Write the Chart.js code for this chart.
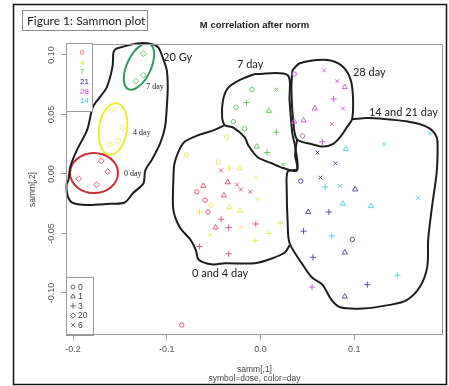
<!DOCTYPE html>
<html>
<head>
<meta charset="utf-8">
<script src="https://cdn.jsdelivr.net/npm/chart.js@4.4.1/dist/chart.umd.min.js"></script>
<style>
  html, body { margin: 0; padding: 0; background: #fff; }
</style>
</head>
<body>
<canvas id="sammonChart" width="449" height="386"></canvas>
<script>
// samm[,1] / samm[,2] per sample, grouped by day; dose decides the symbol
const day0X = [-0.170, -0.163, -0.194, -0.175, -0.084, -0.068, -0.059, -0.056, -0.035, -0.061, -0.039, -0.048, -0.042, -0.034, -0.005, -0.065, -0.034, -0.042, -0.025, -0.021, -0.011];
const day0Y = [0.011, 0.002, -0.004, -0.009, -0.127, -0.015, -0.022, -0.032, -0.007, -0.010, -0.018, -0.045, -0.038, -0.045, -0.042, -0.061, -0.067, 0.003, -0.009, -0.013, -0.015];
const day0Dose = [20, 20, 20, 20, 0, 0, 0, 0, 1, 1, 1, 1, 3, 3, 3, 3, 3, 6, 6, 6, 6];

const day4X = [-0.159, -0.147, -0.152, -0.161, -0.036, -0.079, -0.045, -0.053, -0.022, -0.033, -0.022, -0.033, -0.065, 0.021, 0.009, -0.006, -0.005, -0.003, -0.021, -0.054];
const day4Y = [0.054, 0.039, 0.028, 0.025, 0.031, 0.016, 0.010, -0.026, 0.005, -0.028, -0.031, 0.005, -0.032, -0.041, -0.050, -0.056, -0.003, -0.021, -0.045, -0.051];
const day4Dose = [20, 20, 20, 20, 0, 0, 0, 0, 1, 1, 1, 3, 3, 3, 3, 3, 6, 6, 6, 6];

const day7X = [-0.125, -0.125, -0.133, -0.009, -0.026, -0.029, -0.017, 0.009, -0.004, -0.015, 0.017, 0.007, 0.017, 0.024];
const day7Y = [0.101, 0.083, 0.078, 0.071, 0.056, 0.044, 0.038, 0.053, 0.023, 0.060, 0.035, 0.018, 0.071, 0.008];
const day7Dose = [20, 20, 20, 0, 0, 0, 0, 1, 1, 3, 3, 3, 6, 6];

const day21X = [0.043, 0.098, 0.101, 0.051, 0.090, 0.090, 0.073, 0.046, 0.056, 0.114, 0.061, 0.080, 0.064];
const day21Y = [-0.006, -0.055, -0.013, -0.032, -0.066, -0.103, -0.032, -0.048, -0.070, -0.093, 0.018, 0.009, -0.003];
const day21Dose = [0, 0, 1, 1, 1, 1, 3, 3, 3, 3, 6, 6, 6];

const day28X = [0.036, 0.045, 0.090, 0.058, 0.036, 0.046, 0.078, 0.066, 0.055, 0.068, 0.082, 0.088, 0.076];
const day28Y = [0.084, 0.032, 0.073, 0.055, 0.044, 0.045, 0.063, 0.027, -0.095, 0.087, 0.078, 0.055, 0.042];
const day28Dose = [0, 0, 1, 1, 1, 1, 3, 3, 3, 6, 6, 6, 6];

const day14X = [0.091, 0.088, 0.118, 0.069, 0.076, 0.146, 0.132, 0.181, 0.085, 0.168];
const day14Y = [0.021, -0.025, -0.027, -0.011, -0.052, -0.085, 0.025, 0.034, -0.010, -0.020];
const day14Dose = [1, 1, 1, 3, 3, 3, 6, 6, 6, 6];

const dayLevels = [0, 4, 7, 21, 28, 14];
const doseLevels = [0, 1, 3, 20, 6];
const xTicks = [-0.2, -0.1, 0.0, 0.1];
const yTicks = [-0.10, -0.05, 0.00, 0.05, 0.10];

// hand drawn group outlines, in samm units
const outline20Gy = [[-0.155, 0.105], [-0.142, 0.108], [-0.125, 0.110], [-0.110, 0.107], [-0.104, 0.097], [-0.100, 0.087], [-0.099, 0.073], [-0.100, 0.056], [-0.102, 0.039], [-0.107, 0.026], [-0.116, 0.012], [-0.123, 0.003], [-0.125, -0.008], [-0.136, -0.016], [-0.145, -0.024], [-0.161, -0.025], [-0.185, -0.026], [-0.201, -0.024], [-0.206, -0.018], [-0.207, -0.009], [-0.205, -0.005], [-0.203, 0.006], [-0.196, 0.020], [-0.185, 0.037], [-0.179, 0.056], [-0.171, 0.065], [-0.164, 0.073], [-0.158, 0.090], [-0.157, 0.102], [-0.155, 0.105]];
const outlineDay0And4 = [[-0.038, 0.041], [-0.049, 0.037], [-0.065, 0.033], [-0.081, 0.027], [-0.088, 0.018], [-0.092, 0.008], [-0.093, -0.005], [-0.093, -0.030], [-0.086, -0.045], [-0.075, -0.055], [-0.069, -0.064], [-0.066, -0.072], [-0.051, -0.076], [-0.038, -0.075], [-0.006, -0.075], [0.012, -0.071], [0.026, -0.066], [0.031, -0.060]];
const outlineDay7 = [[-0.006, 0.084], [0.029, 0.083], [0.031, 0.062], [0.034, 0.034], [0.037, 0.023], [0.039, 0.003], [0.024, 0.005], [0.012, 0.009], [-0.003, 0.014], [-0.013, 0.024], [-0.017, 0.031], [-0.029, 0.039], [-0.038, 0.041], [-0.041, 0.048], [-0.040, 0.062], [-0.035, 0.072], [-0.022, 0.079], [-0.006, 0.084]];
const outlineDay28 = [[0.034, 0.087], [0.042, 0.093], [0.067, 0.096], [0.083, 0.093], [0.093, 0.085], [0.098, 0.072], [0.098, 0.047], [0.092, 0.039], [0.085, 0.031], [0.077, 0.025], [0.067, 0.023], [0.055, 0.025], [0.039, 0.029], [0.035, 0.044], [0.033, 0.072], [0.034, 0.087]];
const outlineDay14And21 = [[0.098, 0.046], [0.115, 0.047], [0.157, 0.044], [0.179, 0.039], [0.188, 0.031], [0.189, 0.020], [0.188, 0.001], [0.183, -0.028], [0.179, -0.055], [0.178, -0.078], [0.170, -0.095], [0.156, -0.106], [0.138, -0.110], [0.109, -0.113], [0.085, -0.112], [0.076, -0.106], [0.066, -0.093], [0.055, -0.087], [0.044, -0.075], [0.031, -0.058], [0.029, -0.041], [0.028, -0.013], [0.029, 0.002], [0.039, 0.004], [0.037, 0.016], [0.039, 0.029]];

const dayGroups = [
  { day: 0, x: day0X, y: day0Y, dose: day0Dose },
  { day: 4, x: day4X, y: day4Y, dose: day4Dose },
  { day: 7, x: day7X, y: day7Y, dose: day7Dose },
  { day: 21, x: day21X, y: day21Y, dose: day21Dose },
  { day: 28, x: day28X, y: day28Y, dose: day28Dose },
  { day: 14, x: day14X, y: day14Y, dose: day14Dose },
];
const outlines = [outline20Gy, outlineDay0And4, outlineDay7, outlineDay28, outlineDay14And21];

const styleByDose = { 0: "circle", 1: "triangle", 3: "cross", 20: "rectRot", 6: "crossRot" };
const sizeByDose = { 0: 2.2, 1: 3.0, 3: 3.1, 20: 2.9, 6: 2.7 };
const dayColors = { 0: "#d6607a", 4: "#e8e866", 7: "#6cc86c", 21: "#54549c", 28: "#cc62d8", 14: "#5cd4d4" };
const legendDayColors = { 0: "#e05a5a", 4: "#e2e23a", 7: "#4caf4c", 21: "#2c2c8c", 28: "#d040d0", 14: "#3ccfe0" };

// circled sub groups in the 20 Gy outline (centre and half axes in samm units)
const ellipses = [
  { cx: -0.1297, cy: 0.0903, rx: 0.0128, ry: 0.0210, rot: 25, color: "#2f9966" },
  { cx: -0.1574, cy: 0.0378, rx: 0.0149, ry: 0.0218, rot: 8, color: "#eeee33" },
  { cx: -0.1777, cy: 0.0008, rx: 0.0256, ry: 0.0168, rot: 0, color: "#c8303a" },
];

const notes = [
  { text: "20 Gy", x: -0.104, y: 0.0975, font: "11px Lato" },
  { text: "7 day", x: -0.122, y: 0.0731, font: "8px 'Liberation Serif'" },
  { text: "4 day", x: -0.136, y: 0.0345, font: "8px 'Liberation Serif'" },
  { text: "0 day", x: -0.1457, y: 0.0, font: "8px 'Liberation Serif'" },
  { text: "7 day", x: -0.0251, y: 0.0924, font: "11px Lato" },
  { text: "28 day", x: 0.0987, y: 0.0849, font: "11px Lato" },
  { text: "14 and 21 day", x: 0.1158, y: 0.0521, font: "11px Lato" },
  { text: "0 and 4 day", x: -0.0731, y: -0.084, font: "11px Lato" },
];

const pointSets = dayGroups.map((g) => ({
  label: "day " + g.day,
  data: g.x.map((v, i) => ({ x: v, y: g.y[i] })),
  pointStyle: g.dose.map((d) => styleByDose[d]),
  pointRadius: g.dose.map((d) => sizeByDose[d]),
  pointBorderWidth: 1,
  borderColor: dayColors[g.day],
  backgroundColor: "rgba(0,0,0,0)",
  showLine: false,
  order: 0,
}));

const outlineSets = outlines.map((o) => ({
  data: o.map((p) => ({ x: p[0], y: p[1] })),
  showLine: true,
  pointRadius: 0,
  borderColor: "#1e1e1e",
  borderWidth: 2,
  tension: 0.3,
  fill: false,
  clip: false,
  order: 1,
}));

const decorations = {
  id: "decorations",
  beforeDatasetsDraw(chart) {
    const ctx = chart.ctx;
    const xs = chart.scales.x;
    const ys = chart.scales.y;
    ellipses.forEach((e) => {
      const px = xs.getPixelForValue(e.cx);
      const py = ys.getPixelForValue(e.cy);
      const rx = Math.abs(xs.getPixelForValue(e.cx + e.rx) - px);
      const ry = Math.abs(ys.getPixelForValue(e.cy + e.ry) - py);
      ctx.save();
      ctx.strokeStyle = e.color;
      ctx.lineWidth = 2;
      ctx.beginPath();
      ctx.ellipse(px, py, rx, ry, (e.rot * Math.PI) / 180, 0, Math.PI * 2);
      ctx.stroke();
      ctx.restore();
    });
  },
  afterDraw(chart) {
    const ctx = chart.ctx;
    const area = chart.chartArea;
    const xs = chart.scales.x;
    const ys = chart.scales.y;
    const midX = (area.left + area.right) / 2;
    const midY = (area.top + area.bottom) / 2;
    ctx.save();

    // outer frame + figure caption
    ctx.strokeStyle = "#111";
    ctx.lineWidth = 1.5;
    ctx.strokeRect(13.5, 4.5, 433, 380);
    ctx.strokeStyle = "#8a8a8a";
    ctx.lineWidth = 1;
    ctx.strokeRect(22.5, 10.5, 125, 20);
    ctx.fillStyle = "#222";
    ctx.font = "12px Lato";
    ctx.textBaseline = "middle";
    ctx.textAlign = "left";
    ctx.fillText("Figure 1: Sammon plot", 27, 21);

    // plot box
    ctx.strokeStyle = "#9a9a9a";
    ctx.strokeRect(area.left + 0.5, area.top + 0.5, area.right - area.left - 1, area.bottom - area.top - 1);

    // titles
    ctx.fillStyle = "#222";
    ctx.textAlign = "center";
    ctx.font = "bold 9.5px 'Liberation Sans'";
    ctx.fillText("M correlation after norm", midX, 25);
    ctx.fillStyle = "#444";
    ctx.font = "8.5px 'Liberation Sans'";
    ctx.fillText("samm[,1]", midX, 370);
    ctx.fillText("symbol=dose, color=day", midX, 379);

    // y tick labels and title, rotated like R
    ctx.fillStyle = "#555";
    ctx.font = "9px 'Liberation Sans'";
    yTicks.forEach((v) => {
      ctx.save();
      ctx.translate(area.left - 14, ys.getPixelForValue(v));
      ctx.rotate(-Math.PI / 2);
      ctx.fillText(v.toFixed(2), 0, 0);
      ctx.restore();
    });
    ctx.save();
    ctx.translate(33, midY);
    ctx.rotate(-Math.PI / 2);
    ctx.fillStyle = "#444";
    ctx.font = "8.5px 'Liberation Sans'";
    ctx.fillText("samm[,2]", 0, 0);
    ctx.restore();

    // colour legend (day)
    ctx.fillStyle = "#fff";
    ctx.fillRect(area.left + 1, area.top, 25, 67);
    ctx.strokeStyle = "#9a9a9a";
    ctx.strokeRect(area.left + 0.5, area.top - 0.5, 26, 68);
    ctx.textAlign = "left";
    ctx.font = "8px 'Liberation Sans'";
    dayLevels.forEach((d, i) => {
      ctx.fillStyle = legendDayColors[d];
      ctx.fillText(String(d), area.left + 14, area.top + 9 + i * 9.6);
    });

    // symbol legend (dose)
    const lx = area.left;
    const ly = area.bottom - 58;
    ctx.fillStyle = "#fff";
    ctx.fillRect(lx + 1, ly + 1, 26, 56);
    ctx.strokeStyle = "#9a9a9a";
    ctx.strokeRect(lx + 0.5, ly + 0.5, 27, 58);
    ctx.font = "8.5px 'Liberation Sans'";
    doseLevels.forEach((d, i) => {
      const yy = ly + 10 + i * 9.5;
      ctx.strokeStyle = "#666";
      ctx.fillStyle = "rgba(0,0,0,0)";
      ctx.lineWidth = 1;
      Chart.helpers.drawPoint(ctx, { pointStyle: styleByDose[d], radius: sizeByDose[d] * 0.9, rotation: 0, borderWidth: 1 }, lx + 7, yy);
      ctx.fillStyle = "#444";
      ctx.fillText(String(d), lx + 12, yy + 0.5);
    });

    // hand written notes
    ctx.fillStyle = "#222";
    notes.forEach((n) => {
      ctx.font = n.font;
      ctx.fillText(n.text, xs.getPixelForValue(n.x), ys.getPixelForValue(n.y));
    });
    ctx.restore();
  },
};

const ctx = document.getElementById("sammonChart").getContext("2d");
new Chart(ctx, {
  type: "scatter",
  data: { datasets: [...pointSets, ...outlineSets] },
  options: {
    responsive: false,
    devicePixelRatio: 1,
    animation: false,
    events: [],
    layout: { padding: { top: 44, right: 6, left: 0, bottom: 0 } },
    plugins: { legend: { display: false }, tooltip: { enabled: false } },
    scales: {
      x: {
        type: "linear",
        min: -0.2076,
        max: 0.1948,
        afterFit: (s) => { s.height = 51; },
        afterBuildTicks: (s) => { s.ticks = xTicks.map((v) => ({ value: v })); },
        border: { display: false },
        grid: { drawOnChartArea: false, drawTicks: true, tickLength: 5, color: "#9a9a9a" },
        ticks: { padding: 4, color: "#555", font: { family: "Liberation Sans", size: 9 }, callback: (v) => Number(v).toFixed(1) },
      },
      y: {
        type: "linear",
        min: -0.1353,
        max: 0.1092,
        afterFit: (s) => { s.width = 66; },
        afterBuildTicks: (s) => { s.ticks = yTicks.map((v) => ({ value: v })); },
        border: { display: false },
        grid: { drawOnChartArea: false, drawTicks: true, tickLength: 5, color: "#9a9a9a" },
        ticks: { display: false },
      },
    },
  },
  plugins: [decorations],
});
</script>
</body>
</html>
